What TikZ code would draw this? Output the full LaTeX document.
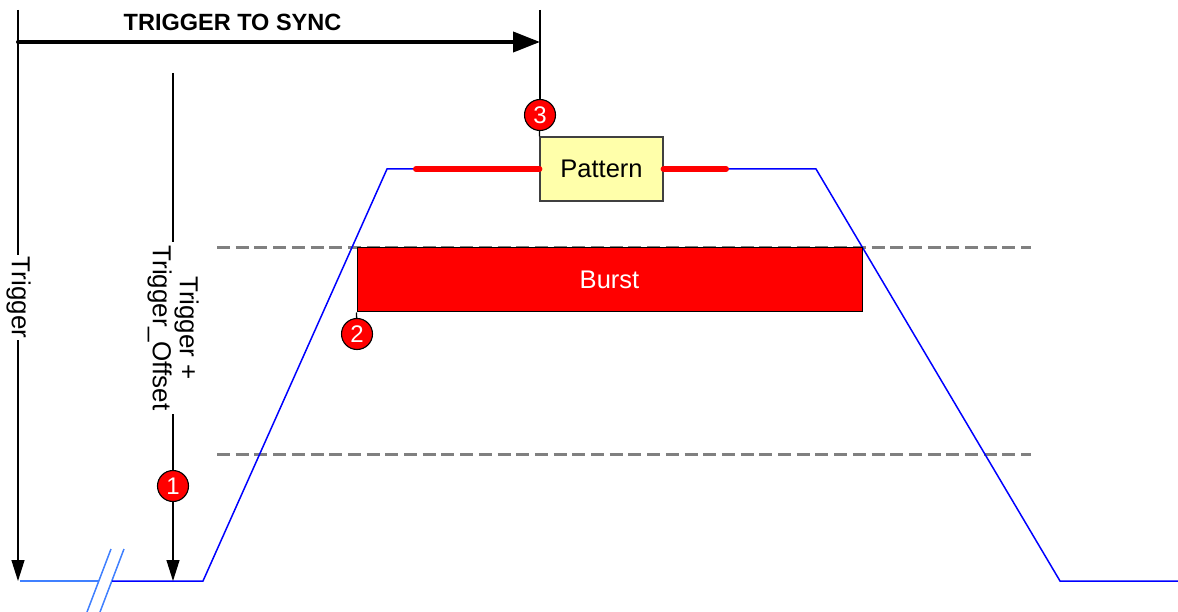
\documentclass[tikz,border=0pt]{standalone}
\usepackage{fontspec}
\setmainfont{Liberation Sans}
\usetikzlibrary{arrows.meta}
\definecolor{wave}{RGB}{0,0,255}
\definecolor{wavelt}{RGB}{64,128,255}
\definecolor{dashgray}{RGB}{128,128,128}
\definecolor{patfill}{RGB}{255,255,170}
\definecolor{patedge}{RGB}{64,64,64}
\begin{document}
\begin{tikzpicture}[x=1pt,y=-1pt,
  marker/.style={line width=1.3pt,black},
  downarrow/.style={marker,-{Triangle[length=21pt,width=13pt]}},
  bigarrow/.style={line width=4pt,line cap=round,-{Triangle[length=27pt,width=20pt]}},
  num/.style={circle,draw=black,line width=1.1pt,fill=red,text=white,minimum size=31pt,inner sep=0pt,font=\fontsize{24}{26}\selectfont},
  vlabel/.style={rotate=-90,fill=white,font=\fontsize{26}{27}\selectfont,align=center},
  wavel/.style={wave,line width=1.5pt,line join=miter},
  wavelight/.style={wavelt,line width=1.5pt},
  level/.style={dashgray,line width=3pt,dash pattern=on 13pt off 5.7pt},
  hot/.style={red,line width=6pt,line cap=round},
  burstbox/.style={draw=black,line width=1pt,fill=red,text=white,minimum width=505pt,minimum height=64pt,inner sep=0pt,font=\fontsize{25.5}{27}\selectfont},
  patbox/.style={draw=patedge,line width=1.2pt,fill=patfill,minimum width=123pt,minimum height=64pt,inner sep=0pt,font=\fontsize{25.5}{27}\selectfont}
]
\useasboundingbox (0,0) rectangle (1178,612);

% threshold levels
\draw[level] (217,248) -- (1031,248);
\draw[level] (217,454) -- (1031,454);

% waveform
\draw[wavelight] (20,581) -- (99,581);
\draw[wavelight] (87,612) -- (111,549);
\draw[wavelight] (100,612) -- (124,549);
\draw[wavel] (112,581) -- (203,581) -- (387,169) -- (816,169) -- (1060,581) -- (1178,581);

% pattern box and its red span
\node[patbox] (pattern) at (601.5,169) {Pattern};
\coordinate (hotL) at (416,169);
\coordinate (hotR) at (726,169);
\draw[hot] (hotL) -- (pattern.west);
\draw[hot] (pattern.east) -- (hotR);

% burst
\node[burstbox] (burst) at (609.5,280) {Burst};
\node[num] (c2) at (357,334) {2};
\draw[marker] (burst.south west) -- (c2);

% trigger marker
\coordinate (trigTop) at (18,10);
\coordinate (trigBot) at (18,581);
\draw[downarrow] (trigTop) -- (trigBot);
\node[vlabel,inner sep=2pt] (trigLbl) at (18.5,297.5) {Trigger};

% trigger + offset marker
\coordinate (offTop) at (173,73);
\coordinate (offBot) at (173,581);
\draw[downarrow] (offTop) -- (offBot);
\node[vlabel,inner sep=4pt] (offLbl) at (173,328) {Trigger +\\Trigger\_Offset};
\node[num] (c1) at (173,486) {1};

% sync marker
\coordinate (syncTop) at (540,10);
\node[num] (c3) at (540,115) {3};
\draw[marker] (syncTop) -- (c3);
\draw[marker] (c3) -- (pattern.north west);

% trigger to sync
\coordinate (tsL) at (18,42);
\coordinate (tsR) at (540,42);
\draw[bigarrow] (tsL) -- (tsR);
\node[font=\bfseries\fontsize{23.5}{25}\selectfont] (tsLbl) at (232.5,22) {TRIGGER TO SYNC};
\end{tikzpicture}
\end{document}
